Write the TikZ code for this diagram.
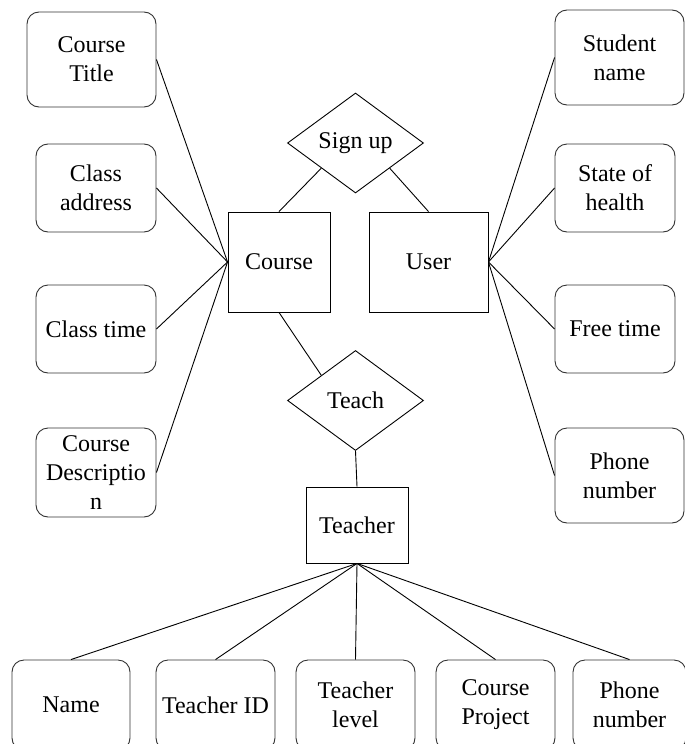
\documentclass[tikz,border=0pt]{standalone}
\usepackage{fontspec}
\setmainfont{Liberation Serif}
\usetikzlibrary{shapes.geometric}

\begin{document}
\begin{tikzpicture}[x=1pt, y=-1pt,
    attr/.style={draw=black!80, line width=0.9pt, rounded corners=12pt, align=center,
        font=\fontsize{24}{29}\selectfont, inner sep=1pt},
    entity/.style={draw, line width=0.9pt, align=center, font=\fontsize{24}{29}\selectfont},
    relation/.style={draw, diamond, aspect=1.4, inner sep=1pt, line width=0.9pt,
        minimum width=136pt, minimum height=100pt, font=\fontsize{24}{29}\selectfont},
    link/.style={line width=0.9pt}]
\useasboundingbox (0,0) rectangle (685,744);

% Entities and relations
\node[entity, minimum width=102pt, minimum height=100pt] (course) at (279,262) {Course};
\node[entity, minimum width=119pt, minimum height=100pt] (user) at (428.5,262) {User};
\node[entity, minimum width=102pt, minimum height=76pt] (teacher) at (357,525) {Teacher};
\node[relation] (signup) at (355.5,143) {Sign up};
\node[relation] (teach) at (355.5,400.5) {Teach};

% Course attributes
\node[attr, minimum width=129pt, minimum height=95pt] (ctitle) at (91.5,59.5) {Course\\Title};
\node[attr, minimum width=120pt, minimum height=88pt] (caddr) at (96,188) {Class\\address};
\node[attr, minimum width=120pt, minimum height=88pt] (ctime) at (96,329) {Class time};
\node[attr, minimum width=120pt, minimum height=89pt] (cdesc) at (96,472.5) {Course\\Descriptio\\n};

% User attributes
\node[attr, minimum width=129pt, minimum height=95pt] (uname) at (619.5,57.5) {Student\\name};
\node[attr, minimum width=120pt, minimum height=88pt] (uhealth) at (615,188) {State of\\health};
\node[attr, minimum width=120pt, minimum height=88pt] (ufree) at (615,329) {Free time};
\node[attr, minimum width=129pt, minimum height=95pt] (uphone) at (619.5,475.5) {Phone\\number};

% Teacher attributes
\node[attr, minimum width=118pt, minimum height=90pt] (tname) at (71,705) {Name};
\node[attr, minimum width=119pt, minimum height=90pt] (tid) at (215.5,705) {Teacher ID};
\node[attr, minimum width=119pt, minimum height=90pt] (tlevel) at (355.5,705) {Teacher\\level};
\node[attr, minimum width=119pt, minimum height=90pt] (tproj) at (495.5,705) {Course\\Project};
\node[attr, minimum width=113pt, minimum height=90pt] (tphone) at (629.5,705) {Phone\\number};

% Connectors
\foreach \a in {ctitle,caddr,ctime,cdesc} {
    \draw[link] (\a.east) -- (course.west);
}
\foreach \a in {uname,uhealth,ufree,uphone} {
    \draw[link] (\a.west) -- (user.east);
}
\foreach \a in {tname,tid,tlevel,tproj,tphone} {
    \draw[link] (\a.north) -- (teacher.south);
}
\draw[link] (signup.south west) -- (course.north);
\draw[link] (signup.south east) -- (user.north);
\draw[link] (course.south) -- (teach.north west);
\draw[link] (teach.south) -- (teacher.north);
\end{tikzpicture}
\end{document}
